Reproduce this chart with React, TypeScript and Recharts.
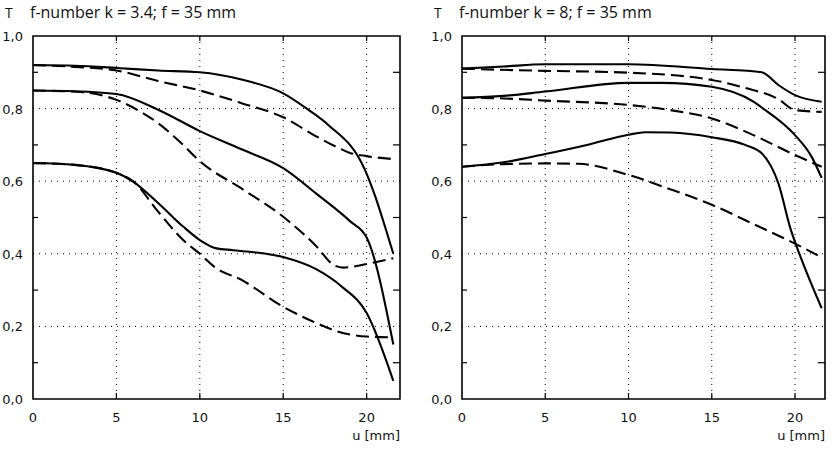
import React from 'react';
import { LineChart, Line, XAxis, YAxis, CartesianGrid, ReferenceArea } from 'recharts';

// ---------- axis ticks ----------
const uTicks = [0, 5, 10, 15, 20];
const tTicks = [0, 0.1, 0.2, 0.3, 0.4, 0.5, 0.6, 0.7, 0.8, 0.9, 1.0];
const tGrid = [0.2, 0.4, 0.6, 0.8];
const uGrid = [5, 10, 15, 20];

// ---------- left panel: f-number k = 3.4 ----------
const leftTitle = 'f-number k = 3.4; f = 35 mm';
const lSolid1U = [0, 2.5, 5, 7.5, 10, 12.5, 15, 16.5, 17.7, 19.9, 20.5, 21.2, 21.6];
const lSolid1T = [0.92, 0.918, 0.912, 0.905, 0.9, 0.88, 0.842, 0.797, 0.755, 0.631, 0.56, 0.46, 0.4];
const lDash1U = [0, 2.5, 5, 7.5, 10, 12.5, 15, 17, 18.3, 19, 20, 21.6];
const lDash1T = [0.92, 0.915, 0.905, 0.876, 0.85, 0.815, 0.776, 0.723, 0.692, 0.678, 0.669, 0.661];
const lSolid2U = [0, 2.5, 5, 7.5, 10, 12.5, 15, 17, 19, 20, 21.6];
const lSolid2T = [0.85, 0.848, 0.84, 0.797, 0.738, 0.688, 0.636, 0.565, 0.49, 0.445, 0.15];
const lDash2U = [0, 3, 5, 6.5, 7.5, 9, 10, 12.5, 15, 17, 18, 18.6, 20, 21.6];
const lDash2T = [0.85, 0.845, 0.824, 0.79, 0.76, 0.7, 0.655, 0.58, 0.502, 0.42, 0.37, 0.362, 0.372, 0.388];
const lSolid3U = [0, 2.5, 5, 6, 7.5, 9, 10, 11, 12, 15, 17, 18.5, 20, 21.6];
const lSolid3T = [0.65, 0.645, 0.623, 0.599, 0.54, 0.475, 0.438, 0.415, 0.41, 0.391, 0.357, 0.31, 0.237, 0.05];
const lDash3U = [0, 2.5, 5, 6, 7.5, 9, 10, 11, 12.5, 15, 17, 18, 20, 21.6];
const lDash3T = [0.65, 0.645, 0.623, 0.6, 0.516, 0.438, 0.4, 0.36, 0.328, 0.254, 0.209, 0.19, 0.172, 0.17];

// ---------- right panel: f-number k = 8 ----------
const rightTitle = 'f-number k = 8; f = 35 mm';
const rSolid1U = [0, 2.5, 5, 10, 15, 18, 19, 20, 21.6];
const rSolid1T = [0.91, 0.916, 0.922, 0.922, 0.909, 0.9, 0.865, 0.837, 0.819];
const rDash1U = [0, 3, 5, 10, 15, 17, 19, 20, 21.6];
const rDash1T = [0.91, 0.906, 0.904, 0.899, 0.879, 0.857, 0.826, 0.796, 0.791];
const rSolid2U = [0, 2.5, 5, 10, 12, 15, 17.5, 18, 20, 21, 21.6];
const rSolid2T = [0.83, 0.835, 0.847, 0.871, 0.871, 0.86, 0.819, 0.803, 0.727, 0.667, 0.609];
const rDash2U = [0, 2.5, 5, 10, 12.5, 15, 17.5, 20, 21.6];
const rDash2T = [0.83, 0.828, 0.822, 0.81, 0.796, 0.773, 0.727, 0.672, 0.64];
const rSolid3U = [0, 2.5, 5, 7.5, 10, 11, 12.5, 15, 17, 18, 19, 19.75, 20.1, 21.6];
const rSolid3T = [0.64, 0.652, 0.675, 0.7, 0.728, 0.735, 0.734, 0.721, 0.7, 0.677, 0.594, 0.466, 0.42, 0.25];
const rDash3U = [0, 2.5, 5, 7, 10, 12.5, 15, 17.5, 20, 21.6];
const rDash3T = [0.64, 0.647, 0.649, 0.648, 0.617, 0.578, 0.535, 0.482, 0.428, 0.39];

const zip = (us: number[], ts: number[]) => us.map((u, i) => ({ u, T: ts[i] }));

type Series = { data: { u: number; T: number }[]; dashed: boolean };

const leftSeries: Series[] = [
  { data: zip(lSolid1U, lSolid1T), dashed: false },
  { data: zip(lDash1U, lDash1T), dashed: true },
  { data: zip(lSolid2U, lSolid2T), dashed: false },
  { data: zip(lDash2U, lDash2T), dashed: true },
  { data: zip(lSolid3U, lSolid3T), dashed: false },
  { data: zip(lDash3U, lDash3T), dashed: true },
];

const rightSeries: Series[] = [
  { data: zip(rSolid1U, rSolid1T), dashed: false },
  { data: zip(rDash1U, rDash1T), dashed: true },
  { data: zip(rSolid2U, rSolid2T), dashed: false },
  { data: zip(rDash2U, rDash2T), dashed: true },
  { data: zip(rSolid3U, rSolid3T), dashed: false },
  { data: zip(rDash3U, rDash3T), dashed: true },
];

const TICK_FONT = '"DejaVu Sans", sans-serif';
const fmt = (v: number) => v.toFixed(1).replace('.', ',');
const isMinor = (v: number) => Math.round(v * 10) % 2 === 1;

const LeftTick = (props: any) => {
  const { x, y, payload } = props;
  const v = payload.value as number;
  const axisX = x + 10;
  if (isMinor(v)) {
    return <line x1={axisX} x2={axisX + 5} y1={y} y2={y} stroke="#000" strokeWidth={1.2} />;
  }
  return (
    <text x={x} y={y} dy="0.38em" textAnchor="end" fontFamily={TICK_FONT} fontSize={13} fill="#111">
      {fmt(v)}
    </text>
  );
};

const RightTick = (props: any) => {
  const { x, y, payload } = props;
  const v = payload.value as number;
  if (isMinor(v)) {
    return <line x1={x - 7} x2={x} y1={y} y2={y} stroke="#000" strokeWidth={1.2} />;
  }
  return <g />;
};

const BottomTick = (props: any) => {
  const { x, y, payload } = props;
  const v = payload.value as number;
  return (
    <g>
      {v !== 0 && <line x1={x} x2={x} y1={y} y2={y - 6} stroke="#000" strokeWidth={1.2} />}
      <text x={x} y={y + 23} textAnchor="middle" fontFamily={TICK_FONT} fontSize={13} fill="#111">
        {String(v)}
      </text>
    </g>
  );
};

const TopTick = (props: any) => {
  const { x, y, payload } = props;
  const v = payload.value as number;
  if (v === 0) return <g />;
  return <line x1={x} x2={x} y1={y} y2={y + 5} stroke="#000" strokeWidth={1.2} />;
};

const unitLabel = (props: any) => {
  const vb = props.viewBox || {};
  return (
    <text x={vb.x + vb.width} y={vb.y + 41} textAnchor="end" fontFamily={TICK_FONT} fontSize={13} fill="#111">
      u [mm]
    </text>
  );
};

type PanelProps = {
  series: Series[];
  left: number;
  uMax: number;
  margin: { top: number; right: number; bottom: number; left: number };
};

const Panel = ({ series, left, uMax, margin }: PanelProps) => (
  <div style={{ position: 'absolute', left, top: 0, width: 420, height: 452 }}>
    <LineChart width={420} height={452} margin={margin}>
      <XAxis
        xAxisId="b"
        dataKey="u"
        type="number"
        domain={[0, uMax]}
        ticks={uTicks}
        allowDataOverflow
        axisLine={false}
        tickLine={false}
        tickSize={0}
        tickMargin={0}
        height={45}
        tick={<BottomTick />}
        label={unitLabel}
      />
      <XAxis
        xAxisId="t"
        orientation="top"
        dataKey="u"
        type="number"
        domain={[0, uMax]}
        ticks={uTicks}
        allowDataOverflow
        axisLine={false}
        tickLine={false}
        tickSize={0}
        tickMargin={0}
        height={2}
        tick={<TopTick />}
      />
      <YAxis
        yAxisId="l"
        type="number"
        domain={[0, 1]}
        ticks={tTicks}
        allowDataOverflow
        axisLine={false}
        tickLine={false}
        tickSize={0}
        tickMargin={10}
        width={30}
        interval={0}
        tick={<LeftTick />}
      />
      <YAxis
        yAxisId="r"
        orientation="right"
        type="number"
        domain={[0, 1]}
        ticks={tTicks}
        allowDataOverflow
        axisLine={false}
        tickLine={false}
        tickSize={0}
        tickMargin={0}
        width={10}
        interval={0}
        tick={<RightTick />}
      />
      <CartesianGrid
        xAxisId="b"
        yAxisId="l"
        stroke="#000"
        strokeWidth={1}
        strokeDasharray="1 5"
        horizontalValues={tGrid}
        verticalValues={uGrid}
      />
      <ReferenceArea
        xAxisId="b"
        yAxisId="l"
        x1={0}
        x2={uMax}
        y1={0}
        y2={1}
        fill="none"
        fillOpacity={0}
        stroke="#000"
        strokeWidth={1.6}
      />
      <Line
        xAxisId="t"
        yAxisId="r"
        data={series[0].data}
        dataKey="T"
        stroke="none"
        dot={false}
        activeDot={false}
        isAnimationActive={false}
      />
      {series.map((s, i) => (
        <Line
          key={i}
          xAxisId="b"
          yAxisId="l"
          data={s.data}
          dataKey="T"
          type="monotone"
          stroke="#000"
          strokeWidth={2.1}
          strokeDasharray={s.dashed ? '13 6' : undefined}
          dot={false}
          activeDot={false}
          isAnimationActive={false}
        />
      ))}
    </LineChart>
  </div>
);

const TITLE_FONT = '"Open Sans", "Noto Sans", sans-serif';

export default function App() {
  return (
    <div style={{ position: 'absolute', left: 0, top: 0, width: 836, height: 452, background: '#fff' }}>
      <Panel series={leftSeries} left={0} uMax={22} margin={{ top: 34, right: 10, bottom: 8, left: 3 }} />
      <Panel series={rightSeries} left={416} uMax={21.8} margin={{ top: 34, right: 1, bottom: 8, left: 16 }} />
      <svg width={836} height={40} style={{ position: 'absolute', left: 0, top: 0, pointerEvents: 'none' }}>
        <text x={5} y={18} fontFamily={TITLE_FONT} fontSize={14} fill="#111">T</text>
        <text x={30} y={18} fontFamily={TITLE_FONT} fontSize={16} fill="#111">{leftTitle}</text>
        <text x={434} y={18} fontFamily={TITLE_FONT} fontSize={14} fill="#111">T</text>
        <text x={459} y={18} fontFamily={TITLE_FONT} fontSize={16} fill="#111">{rightTitle}</text>
      </svg>
    </div>
  );
}
